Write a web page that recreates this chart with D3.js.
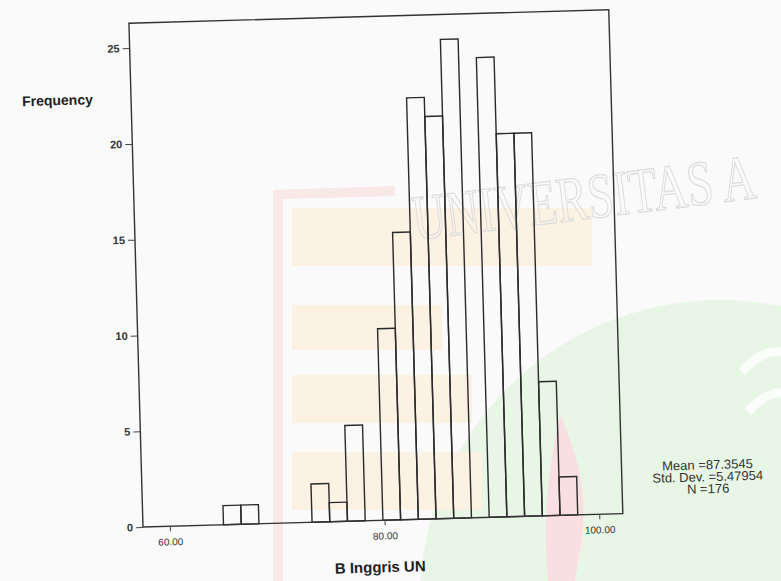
<!DOCTYPE html>
<html>
<head>
<meta charset="utf-8">
<script src="https://cdnjs.cloudflare.com/ajax/libs/d3/7.8.5/d3.min.js"></script>
<style>
  body { margin: 0; background: #fafafa; }
  svg { display: block; }
  .tick text { font-family: "Liberation Sans", Arial, sans-serif; fill: #333; }
</style>
</head>
<body>
<div id="chart"></div>
<script>
// histogram of B Inggris UN (bin starts, width 1.65)
var binStarts = [65.00, 66.65, 68.30, 69.95, 71.60, 73.25, 74.90, 76.55, 78.20, 79.85,
                 81.50, 83.15, 84.80, 86.45, 88.10, 89.75, 91.40, 93.05, 94.70, 96.35];
var counts = [1, 1, 0, 0, 0, 2, 1, 5, 0, 10, 15, 22, 21, 25, 0, 24, 20, 20, 7, 2];
var binWidth = 1.65;
var xTicks = [60, 80, 100];
var yTicks = [0, 5, 10, 15, 20, 25];
var statLines = ["Mean =87.3545", "Std. Dev. =5.47954", "N =176"];

var svgWidth = 781;
var svgHeight = 581;

var svg = d3.select("#chart")
  .append("svg")
  .attr("width", svgWidth)
  .attr("height", svgHeight);

svg.append("rect")
  .attr("width", svgWidth)
  .attr("height", svgHeight)
  .attr("fill", "#fafafa");

// faint watermark of the scanned page
var wm = svg.append("g").attr("class", "watermark");

wm.append("circle")
  .attr("cx", 720).attr("cy", 600).attr("r", 300)
  .attr("fill", "#e8f6e6");

[[292, 208, 300, 58], [292, 305, 150, 45], [292, 375, 180, 48], [292, 452, 190, 58]].forEach(function(b) {
  wm.append("rect")
    .attr("x", b[0]).attr("y", b[1]).attr("width", b[2]).attr("height", b[3])
    .attr("fill", "#fbf2e3");
});

wm.append("path")
  .attr("d", "M273,581 L273,190 L395,186 L395,196 L283,199 L283,581 Z")
  .attr("fill", "#f8e8e6");

wm.append("path")
  .attr("d", "M560,415 Q590,480 582,540 L575,581 L548,581 Q540,500 560,415 Z")
  .attr("fill", "#f9dfe1");

wm.append("path")
  .attr("d", "M742,372 Q760,350 781,352")
  .attr("fill", "none").attr("stroke", "#fbfdfb").attr("stroke-width", 9);
wm.append("path")
  .attr("d", "M748,412 Q765,392 781,393")
  .attr("fill", "none").attr("stroke", "#fbfdfb").attr("stroke-width", 9);

wm.append("text")
  .attr("transform", "translate(415,240) rotate(-7) scale(0.73,1)")
  .attr("font-family", "Liberation Serif, serif")
  .attr("font-size", 64)
  .attr("fill", "none")
  .attr("stroke", "#dddddd")
  .attr("stroke-width", 1.3)
  .text("UNIVERSITAS A");

// chart, slightly rotated like the scan
var chartGroup = svg.append("g")
  .attr("transform", "translate(143,527) rotate(-1.6)");

var plotW = 480;
var plotH = 504;

var xScale = d3.scaleLinear().domain([57.5, 102.2]).range([0, plotW]);
var yScale = d3.scaleLinear().domain([0, 26.3]).range([0, -plotH]);

chartGroup.selectAll("rect.bar")
  .data(counts.map(function(c, i) { return { start: binStarts[i], count: c }; })
    .filter(function(d) { return d.count > 0; }))
  .enter()
  .append("rect")
  .attr("class", "bar")
  .attr("x", function(d) { return xScale(d.start); })
  .attr("width", function(d) { return xScale(d.start + binWidth) - xScale(d.start); })
  .attr("y", function(d) { return yScale(d.count); })
  .attr("height", function(d) { return yScale(0) - yScale(d.count); })
  .attr("fill", "none")
  .attr("stroke", "#2a2a2a")
  .attr("stroke-width", 1.4);

chartGroup.append("rect")
  .attr("x", 0)
  .attr("y", -plotH)
  .attr("width", plotW)
  .attr("height", plotH)
  .attr("fill", "none")
  .attr("stroke", "#333")
  .attr("stroke-width", 1.4);

var leftAxis = d3.axisLeft(yScale)
  .tickValues(yTicks)
  .tickSize(7)
  .tickPadding(3)
  .tickFormat(d3.format("d"));

var yAxis = chartGroup.append("g").call(leftAxis);
yAxis.select(".domain").remove();
yAxis.selectAll(".tick line").attr("stroke", "#444");
yAxis.selectAll(".tick text").attr("font-size", 11).attr("font-weight", "bold").attr("fill", "#3a3a3a");

var bottomAxis = d3.axisBottom(xScale)
  .tickValues(xTicks)
  .tickSize(5)
  .tickPadding(7)
  .tickFormat(d3.format(".2f"));

var xAxis = chartGroup.append("g").call(bottomAxis);
xAxis.select(".domain").remove();
xAxis.selectAll(".tick line").attr("stroke", "#444");
xAxis.selectAll(".tick text").attr("font-size", 10).attr("fill", "#444");

chartGroup.append("text")
  .attr("x", -109)
  .attr("y", -424)
  .attr("font-family", "Liberation Sans, Arial, sans-serif")
  .attr("font-size", 14)
  .attr("font-weight", "bold")
  .attr("fill", "#222")
  .text("Frequency");

chartGroup.append("text")
  .attr("x", 236)
  .attr("y", 52)
  .attr("text-anchor", "middle")
  .attr("font-family", "Liberation Sans, Arial, sans-serif")
  .attr("font-size", 15)
  .attr("font-weight", "bold")
  .attr("fill", "#222")
  .text("B Inggris UN");

chartGroup.selectAll("text.stat")
  .data(statLines)
  .enter()
  .append("text")
  .attr("class", "stat")
  .attr("x", 566)
  .attr("y", function(d, i) { return -42 + i * 12; })
  .attr("text-anchor", "middle")
  .attr("font-family", "Liberation Sans, Arial, sans-serif")
  .attr("font-size", 13)
  .attr("fill", "#333")
  .text(function(d) { return d; });
</script>
</body>
</html>
